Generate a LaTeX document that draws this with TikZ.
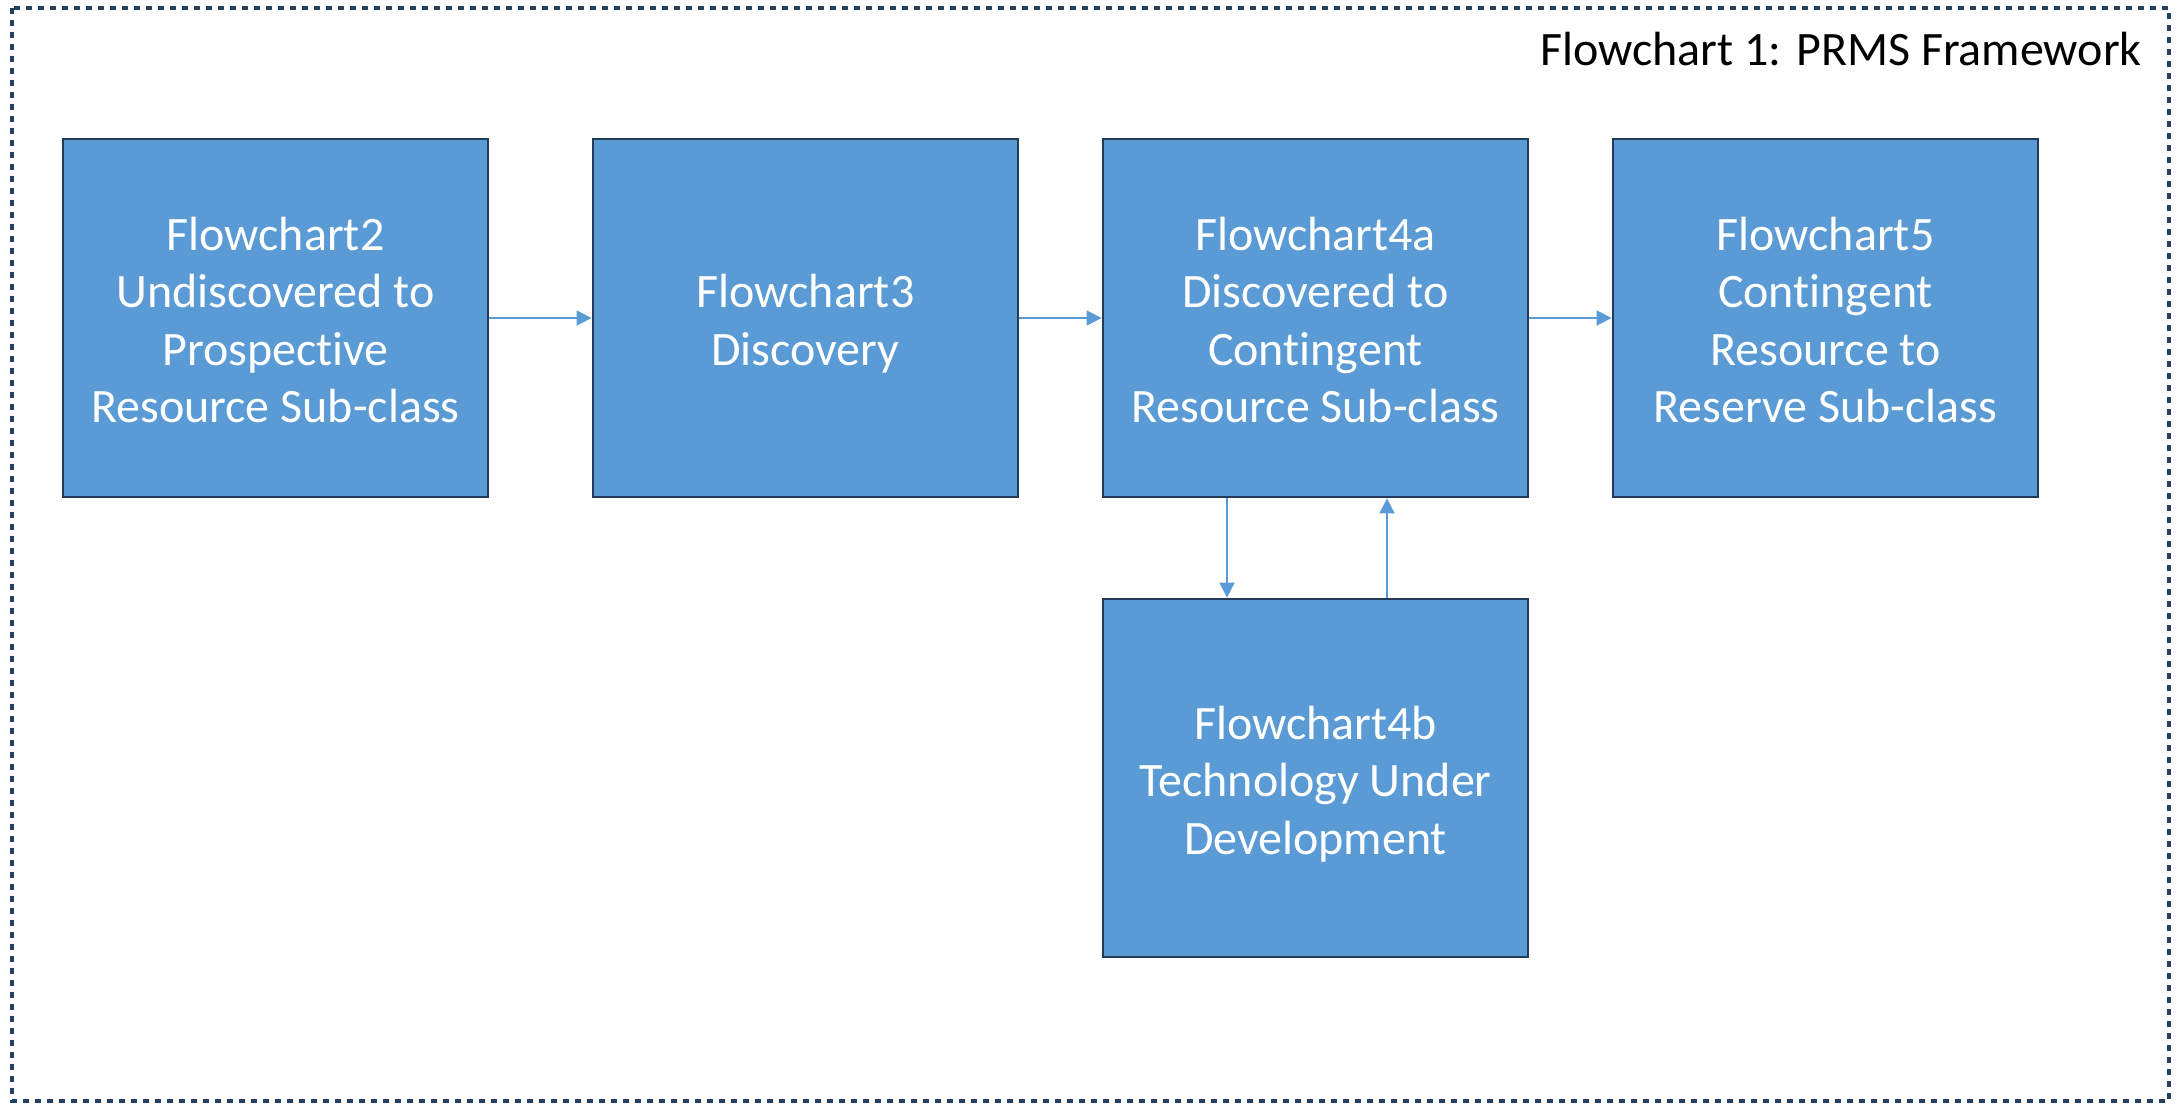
\documentclass[tikz,border=0pt]{standalone}
\usepackage{fontspec}
\setmainfont{Carlito}[Ligatures={NoCommon}]
\usetikzlibrary{arrows.meta}
\definecolor{boxfill}{HTML}{5B9BD5}
\definecolor{boxline}{HTML}{203A57}
\definecolor{frameclr}{HTML}{243F60}
\newcommand\boxlines[1]{\raisebox{-3.5pt}[\height][\depth]{\begin{tabular}{@{}c@{}}#1\end{tabular}}}
\begin{document}
\begin{tikzpicture}[x=0.5pt,y=-0.5pt,
  stagebox/.style={draw=boxline, line width=1.4pt, fill=boxfill, text=white,
    minimum width=212.5pt, minimum height=179pt, inner sep=0pt,
    font=\fontsize{24pt}{28.75pt}\selectfont},
  flowarrow/.style={draw=boxfill, line width=0.8pt, -{Triangle[length=7.5pt,width=7.5pt]}},
  frameline/.style={draw=frameclr, line width=2.4pt, dash pattern=on 3pt off 3pt}]
\useasboundingbox (0,0) rectangle (2184,1104);
\draw[frameline] (12,8) rectangle (2169,1101);
\node[anchor=east, inner sep=0pt, font=\fontsize{24pt}{28.75pt}\selectfont] (title) at (2142,49) {Flowchart 1: PRMS Framework};
\node[stagebox] (b1) at (275.5,318) {\boxlines{Flowchart2\\Undiscovered to\\Prospective\\Resource Sub-class}};
\node[stagebox] (b2) at (805.5,318) {\boxlines{Flowchart3\\Discovery}};
\node[stagebox] (b3) at (1315.5,318) {\boxlines{Flowchart4a\\Discovered to\\Contingent\\Resource Sub-class}};
\node[stagebox] (b4) at (1825.5,318) {\boxlines{Flowchart5\\Contingent\\Resource to\\Reserve Sub-class}};
\node[stagebox] (b5) at (1315.5,778) {\boxlines{Flowchart4b\\Technology Under\\Development}};
\coordinate (dl) at (1227,0);
\coordinate (ul) at (1387,0);
\draw[flowarrow] (b1.east) -- (b2.west);
\draw[flowarrow] (b2.east) -- (b3.west);
\draw[flowarrow] (b3.east) -- (b4.west);
\draw[flowarrow] (b3.south -| dl) -- (b5.north -| dl);
\draw[flowarrow] (b5.north -| ul) -- (b3.south -| ul);
\end{tikzpicture}
\end{document}
